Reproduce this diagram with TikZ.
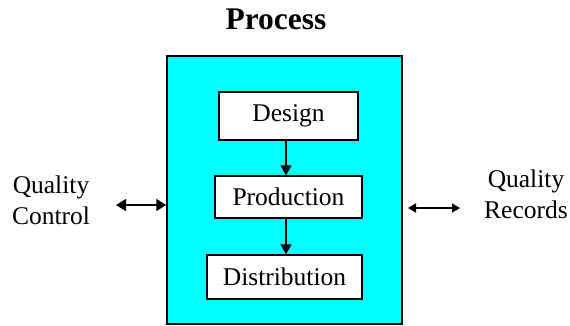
\documentclass[tikz,border=0pt]{standalone}
\usepackage{fontspec}
\setmainfont{Liberation Serif}
\usetikzlibrary{arrows.meta}
\definecolor{procfill}{RGB}{0,255,255}
\tikzset{
  stagebox/.style={draw=black, line width=1.5pt, fill=white, inner sep=0pt,
    font=\fontsize{25.5}{30}\selectfont},
  sidelabel/.style={align=center, inner sep=0pt, font=\fontsize{25.5}{31}\selectfont},
  flow/.style={line width=1.5pt, -{Triangle[length=10pt,width=11pt]}},
  link/.style={line width=1.5pt, {Triangle[length=10pt,width=12pt]}-{Triangle[length=10pt,width=12pt]}},
  linksmall/.style={line width=1.5pt, {Triangle[length=8pt,width=9pt]}-{Triangle[length=8pt,width=9pt]}}
}
\begin{document}
\begin{tikzpicture}[x=1pt,y=-1pt]
  \useasboundingbox (0,0) rectangle (570,325);
  % title
  \node[font=\fontsize{31.5}{36}\selectfont\bfseries] (title) at (276,19) {Process};
  % enclosing process block
  \node[draw=black, line width=1.5pt, fill=procfill, minimum width=235pt,
        minimum height=268pt, inner sep=0pt] (main) at (284.5,190) {};
  % stages
  \node[stagebox, minimum width=139pt, minimum height=48pt] (design) at (288.5,116) {Design};
  \node[stagebox, minimum width=147pt, minimum height=42pt] (production) at (288.5,197) {Production};
  \node[stagebox, minimum width=155pt, minimum height=44pt] (distribution) at (284.5,277) {Distribution};
  \draw[flow] (design.south -| 286,0) -- (production.north -| 286,0);
  \draw[flow] (production.south -| 286,0) -- (distribution.north -| 286,0);
  % side labels
  \node[sidelabel] (qc) at (51,200) {Quality\\Control};
  \node[sidelabel] (qr) at (526,194) {Quality\\Records};
  \coordinate (lend) at (116,205);
  \draw[link] (lend) -- (lend -| main.west);
  \coordinate (rstart) at (408,208);
  \coordinate (rend) at (460,208);
  \draw[linksmall] (rstart) -- (rend);
\end{tikzpicture}
\end{document}
